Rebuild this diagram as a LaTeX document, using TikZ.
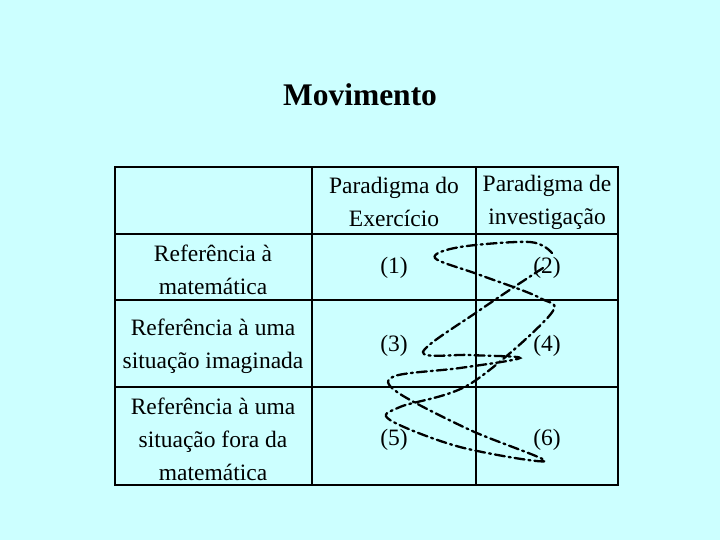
\documentclass[tikz,border=0pt]{standalone}
\usepackage{fontspec}
\setmainfont{Liberation Serif}
\definecolor{bgcyan}{HTML}{CCFFFF}
\begin{document}
\begin{tikzpicture}[x=1pt,y=-1pt,text centered,font=\fontsize{23.5}{33}\selectfont]
\tikzset{cell/.style={align=center}, move/.style={line width=2.3pt,dash pattern=on 10pt off 4pt on 2pt off 4pt,line cap=round}}
\fill[bgcyan] (0,0) rectangle (720,540);
\useasboundingbox (0,0) rectangle (720,540);
\node (title) at (360,95) {\fontsize{31.5}{36}\selectfont\bfseries Movimento};
%% table grid
\draw[line width=2pt] (115,167) rectangle (618,485);
\draw[line width=2pt] (312,167) -- (312,485);
\draw[line width=2pt] (476,167) -- (476,485);
\draw[line width=2pt] (115,234) -- (618,234);
\draw[line width=2pt] (115,300) -- (618,300);
\draw[line width=2pt] (115,387) -- (618,387);
\node[cell] (hexer) at (394,202) {Paradigma do\\Exercício};
\node[cell] (hinv) at (547,202) {Paradigma de\\investigação};
\node[cell] (rmat) at (213,270) {Referência à\\matemática};
\node[cell] (rimag) at (213,346) {Referência à uma\\situação imaginada};
\node[cell] (rfora) at (213,439) {Referência à uma\\situação fora da\\matemática};
\node (c1) at (394,268) {(1)};
\node (c2) at (547,268) {(2)};
\node (c3) at (394,346) {(3)};
\node (c4) at (547,346) {(4)};
\node (c5) at (394,440) {(5)};
\node (c6) at (547,440) {(6)};
%% movement curve
\draw[move] plot[smooth,tension=0.55] coordinates {(543,268) (480,310) (423,352) (470,355) (520,358) (460,368) (395,376) (397,392) (470,430) (545,461) (460,447) (390,420) (400,407) (470,384) (550,315) (540,298) (480,275) (435,258) (460,247) (530,242) (552,253)};
\end{tikzpicture}
\end{document}
